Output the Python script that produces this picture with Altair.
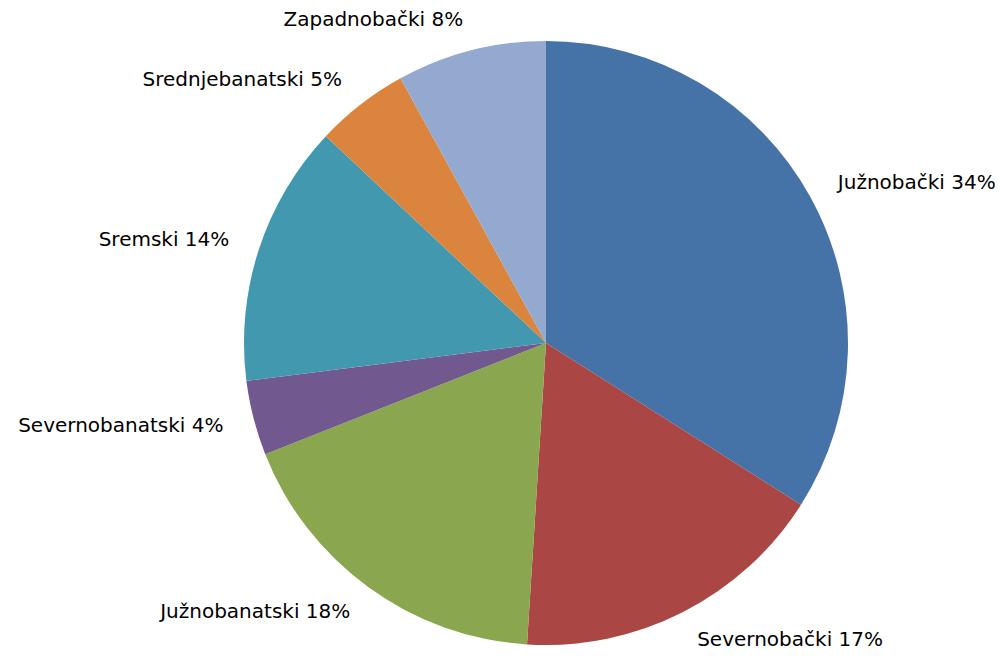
import altair as alt
import pandas as pd

categories = ["Južnobački", "Severnobački", "Južnobanatski", "Severnobanatski",
              "Sremski", "Srednjebanatski", "Zapadnobački"]
shares = [34, 17, 18, 4, 14, 5, 8]
colors = ["#4673A7", "#AA4644", "#8AA64F", "#71588F", "#4198AF", "#DB843D", "#93A9CF"]

df = pd.DataFrame({"region": categories, "share": shares, "idx": list(range(len(categories)))})
df["label"] = [f"{c} {v}%" for c, v in zip(categories, shares)]

CX, CY, R, RL = 538, 335, 302, 333
FONT = "DejaVu Sans"
FS = 20

base = alt.Chart(df).encode(
    theta=alt.Theta("share:Q", stack=True),
    order=alt.Order("idx:Q"),
    x=alt.value(CX),
    y=alt.value(CY),
)

pie = base.mark_arc(radius=R).encode(
    color=alt.Color("region:N", sort=categories,
                    scale=alt.Scale(domain=categories, range=colors), legend=None)
)

side = base.transform_joinaggregate(total="sum(share)").transform_window(
    cum="sum(share)", sort=[alt.SortField("idx")]
).transform_calculate(mid="(datum.cum - datum.share / 2) / datum.total")

right_labels = side.mark_text(radius=RL, align="left", baseline="middle",
                              font=FONT, fontSize=FS, color="#000000").encode(
    text=alt.condition("datum.mid < 0.5", alt.Text("label:N"), alt.value(""))
)
left_labels = side.mark_text(radius=RL, align="right", baseline="middle",
                             font=FONT, fontSize=FS, color="#000000").encode(
    text=alt.condition("datum.mid >= 0.5", alt.Text("label:N"), alt.value(""))
)

chart = alt.layer(pie, right_labels, left_labels).properties(
    width=992, height=644, autosize="none", padding=0
).configure_view(stroke=None)

chart.save("out.html", embed_options={"renderer": "svg", "actions": False})
